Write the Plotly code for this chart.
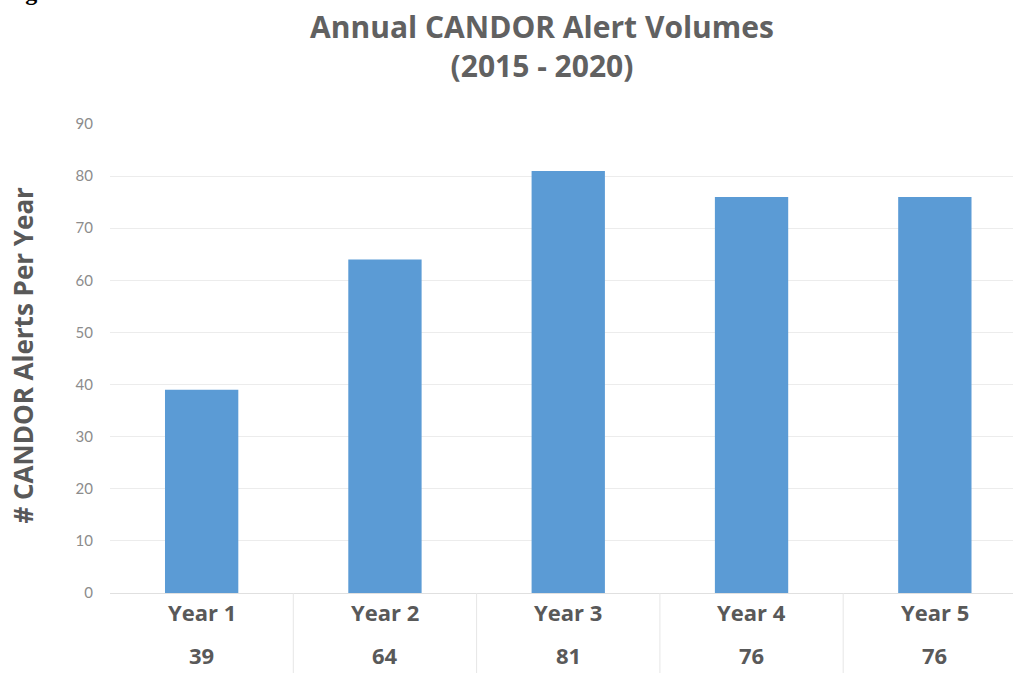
import plotly.graph_objects as go

categories = ["Year 1", "Year 2", "Year 3", "Year 4", "Year 5"]
values = [39, 64, 81, 76, 76]
y_ticks = [0, 10, 20, 30, 40, 50, 60, 70, 80, 90]

W, H = 1013, 673
L, R, T, B = 110, 0, 124, 80
plot_w = W - L - R
plot_h = H - T - B

xs = list(range(len(categories)))
fig = go.Figure()
fig.add_trace(go.Bar(x=xs, y=values, marker=dict(color="#5b9bd5", line=dict(width=0)),
                     width=0.4, hoverinfo="skip"))

label_color = "#595959"
for i, (c, v) in enumerate(zip(categories, values)):
    fig.add_annotation(x=i, xref="x", y=-19 / plot_h, yref="paper", text=f"<b>{c}</b>",
                       showarrow=False, font=dict(family="Open Sans", size=22, color=label_color),
                       yanchor="middle")
    fig.add_annotation(x=i, xref="x", y=-62 / plot_h, yref="paper", text=f"<b>{v}</b>",
                       showarrow=False, font=dict(family="Open Sans", size=22, color=label_color),
                       yanchor="middle")
for i in range(len(categories) - 1):
    fig.add_shape(type="line", x0=i + 0.5, x1=i + 0.5, xref="x", y0=0, y1=-B / plot_h,
                  yref="paper", line=dict(color="#e6e6e6", width=1))

fig.update_layout(
    width=W, height=H,
    margin=dict(l=L, r=R, t=T, b=B),
    paper_bgcolor="white", plot_bgcolor="white",
    showlegend=False,
    title=dict(text="<b>Annual CANDOR Alert Volumes<br>(2015 - 2020)</b>", x=542 / W, xanchor="center",
               y=1 - 38 / H, yanchor="middle",
               font=dict(family="Open Sans", size=30, color="#616161")),
    xaxis=dict(range=[-0.5, -0.5 + plot_w / 183.3], showticklabels=False, showgrid=False,
               zeroline=False, showline=True, linecolor="#e0e0e0", linewidth=1),
    yaxis=dict(range=[0, 90], tickvals=y_ticks, showgrid=True, gridcolor="#ececec", gridwidth=1,
               zeroline=False, showline=False,
               tickfont=dict(family="Lato", size=15, color="#8c8c8c"),
               ticklabelstandoff=16),
)
fig.add_annotation(x=(22 - L) / plot_w, xref="paper", y=0.5 + (3 / plot_h), yref="paper",
                   textangle=-90, showarrow=False, xanchor="center", yanchor="middle",
                   text="<b># CANDOR Alerts Per Year</b>",
                   font=dict(family="Open Sans", size=26, color="#595959"))
fig.add_annotation(x=-L / plot_w + 0.002, xref="paper", y=1 + (T + 8) / plot_h, yref="paper",
                   xanchor="left", yanchor="middle", showarrow=False,
                   text="<b>Figure 3</b>", font=dict(family="Liberation Serif", size=24, color="black"))

fig.write_html("out.html")
